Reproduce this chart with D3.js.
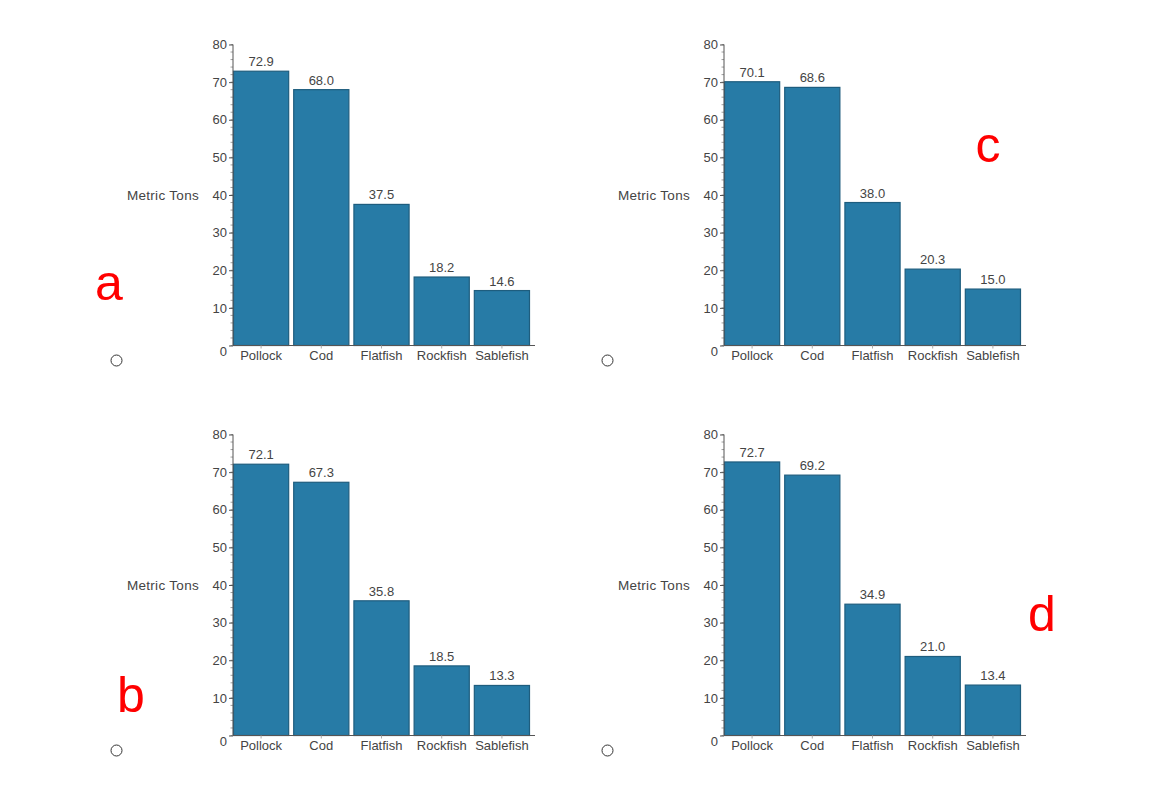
<!DOCTYPE html>
<html>
<head>
<meta charset="utf-8">
<script src="https://cdn.jsdelivr.net/npm/d3@7"></script>
<style>
  html, body { margin: 0; padding: 0; background: #fff; }
  svg { display: block; }
  text { font-family: "Liberation Sans", Arial, Helvetica, sans-serif; }
</style>
</head>
<body>
<svg id="chart" width="1149" height="785"></svg>
<script>
const categories = ["Pollock", "Cod", "Flatfish", "Rockfish", "Sablefish"];
const valuesA = [72.9, 68.0, 37.5, 18.2, 14.6];
const valuesB = [72.1, 67.3, 35.8, 18.5, 13.3];
const valuesC = [70.1, 68.6, 38.0, 20.3, 15.0];
const valuesD = [72.7, 69.2, 34.9, 21.0, 13.4];
const yTickValues = [0, 10, 20, 30, 40, 50, 60, 70, 80];
const yMinorValues = d3.range(0, 81, 2);
const panelLetters = ["a", "b", "c", "d"];
const yAxisTitle = "Metric Tons";

const svg = d3.select("#chart");

const panels = [
  { values: valuesA, ox: 233, oy: 345.5, letter: panelLetters[0], lx: 109, ly: 300, cx: 116.5, cy: 360.5 },
  { values: valuesB, ox: 233, oy: 735.5, letter: panelLetters[1], lx: 131, ly: 712, cx: 116.5, cy: 750.5 },
  { values: valuesC, ox: 724, oy: 345.5, letter: panelLetters[2], lx: 988, ly: 162, cx: 607.5, cy: 360.5 },
  { values: valuesD, ox: 724, oy: 735.5, letter: panelLetters[3], lx: 1042, ly: 631, cx: 607.5, cy: 750.5 }
];

const axisColor = "#555";
const textColor = "#444";

function drawPanel(p) {
  const g = svg.append("g");
  const y = d3.scaleLinear().domain([0, 80]).range([p.oy, p.oy - 301]);
  const x = d3.scaleBand().domain(categories).range([p.ox, p.ox + 297]).paddingInner(0.067).paddingOuter(0);

  // bars
  g.selectAll("rect.bar").data(p.values).enter().append("rect")
    .attr("class", "bar")
    .attr("x", (d, i) => x(categories[i]) + 0.5)
    .attr("y", d => y(d))
    .attr("width", x.bandwidth() - 1)
    .attr("height", d => p.oy - y(d))
    .attr("fill", "#277ba6")
    .attr("stroke", "#1e5d7e")
    .attr("stroke-width", 1.2);

  // value labels
  g.selectAll("text.val").data(p.values).enter().append("text")
    .attr("class", "val")
    .attr("x", (d, i) => x(categories[i]) + x.bandwidth() / 2)
    .attr("y", d => y(d) - 5)
    .attr("text-anchor", "middle")
    .attr("font-size", 13)
    .attr("fill", textColor)
    .text(d => d.toFixed(1));

  // y axis minor ticks
  g.selectAll("line.minor").data(yMinorValues).enter().append("line")
    .attr("x1", p.ox - 2.5).attr("x2", p.ox)
    .attr("y1", d => y(d)).attr("y2", d => y(d))
    .attr("stroke", "#888").attr("stroke-width", 0.8);

  // y axis major
  const yAxis = d3.axisLeft(y).tickValues(yTickValues).tickSize(4).tickPadding(2).tickFormat(d3.format("d"));
  const ya = g.append("g").attr("transform", `translate(${p.ox},0)`).call(yAxis);
  ya.select(".domain").attr("stroke", axisColor).attr("stroke-width", 1).attr("d", `M0,${y(80)}V${p.oy}`);
  ya.selectAll(".tick line").attr("stroke", axisColor);
  ya.selectAll(".tick text")
    .attr("font-size", 13)
    .attr("font-family", "Liberation Sans, Arial, sans-serif")
    .attr("fill", textColor)
    .attr("dy", d => d === 0 ? "0.75em" : "0.32em");

  // x axis
  const xAxis = d3.axisBottom(x).tickSize(3).tickPadding(2);
  const xa = g.append("g").attr("transform", `translate(0,${p.oy})`).call(xAxis);
  xa.select(".domain").attr("stroke", axisColor).attr("stroke-width", 1).attr("d", `M${p.ox},0H${p.ox + 302}`);
  xa.selectAll(".tick line").attr("stroke", "#aaa");
  xa.selectAll(".tick text")
    .attr("font-size", 13)
    .attr("font-family", "Liberation Sans, Arial, sans-serif")
    .attr("fill", textColor);

  // y title
  g.append("text")
    .attr("x", p.ox - 34)
    .attr("y", y(40) + 4.5)
    .attr("text-anchor", "end")
    .attr("font-size", 13.5)
    .attr("letter-spacing", 0.3)
    .attr("fill", textColor)
    .text(yAxisTitle);

  // radio circle
  g.append("circle")
    .attr("cx", p.cx).attr("cy", p.cy).attr("r", 5.5)
    .attr("fill", "none").attr("stroke", "#333").attr("stroke-width", 1);

  // red letter
  g.append("text")
    .attr("x", p.lx).attr("y", p.ly)
    .attr("text-anchor", "middle")
    .attr("font-size", 50)
    .attr("font-family", "Open Sans, Liberation Sans, sans-serif")
    .attr("fill", "#ff0000")
    .text(p.letter);
}

panels.forEach(drawPanel);
</script>
</body>
</html>
